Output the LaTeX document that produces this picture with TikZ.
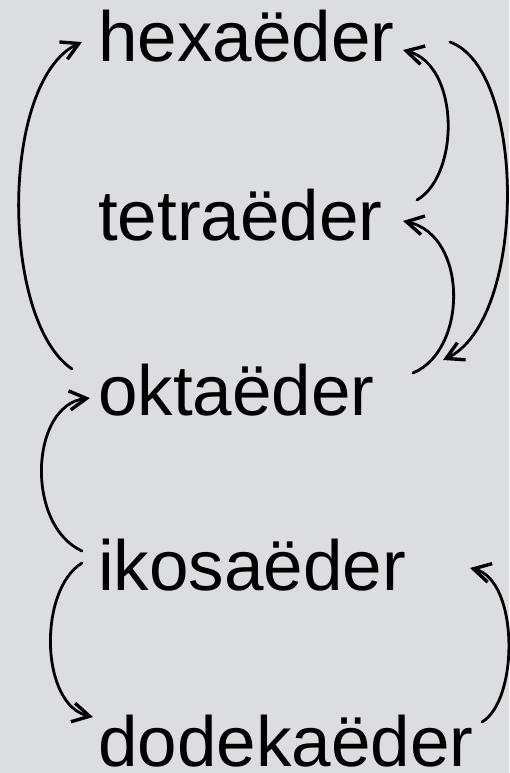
\documentclass[tikz,border=0pt]{standalone}
\usepackage{fontspec}
\setmainfont{Liberation Sans}
\usetikzlibrary{arrows.meta}
\definecolor{bg}{RGB}{220,221,224}
\begin{document}
\begin{tikzpicture}[x=1pt,y=1pt,
  word/.style={anchor=base west, inner sep=0pt, font=\fontsize{71}{71}\selectfont},
  link/.style={line width=2.8pt, line cap=round, -{Straight Barb[length=17pt,width=19pt,line width=3.4pt]}}]
\fill[bg] (0,0) rectangle (509,-773);
\useasboundingbox (0,0) rectangle (509,-773);
\node[word] (hexa) at (98,-62) {hexaëder};
\node[word] (tetra) at (98,-240) {tetraëder};
\node[word] (okta) at (98,-415) {oktaëder};
\node[word] (ikosa) at (98,-590) {ikosaëder};
\node[word] (dodeka) at (98,-766) {dodekaëder};
% okta -> hexa (left)
\draw[link] ([shift={(-26,46)}]okta.base west) .. controls +(-72,49) and +(-82,-38) .. ([shift={(-16,20)}]hexa.base west);
% tetra -> hexa
\draw[link] ([shift={(319,40)}]tetra.base west) .. controls +(43,25) and +(57,-15) .. ([shift={(305,12)}]hexa.base west);
% okta -> tetra
\draw[link] ([shift={(315,42)}]okta.base west) .. controls +(55,23) and +(65,-14) .. ([shift={(305,19)}]tetra.base west);
% hexa -> okta
\draw[link] ([shift={(352,20)}]hexa.base west) .. controls +(77,-28) and +(84,40) .. ([shift={(345,55)}]okta.base west);
% ikosa -> okta
\draw[link] ([shift={(-16,39)}]ikosa.base west) .. controls +(-57,26) and +(-60,-7) .. ([shift={(-8,17)}]okta.base west);
% ikosa -> dodeka
\draw[link] ([shift={(-16,27)}]ikosa.base west) .. controls +(-44,-27) and +(-53,12) .. ([shift={(-5,49)}]dodeka.base west);
% dodeka -> ikosa
\draw[link] ([shift={(384,44)}]dodeka.base west) .. controls +(37,22) and +(49,-12) .. ([shift={(372,22)}]ikosa.base west);
\end{tikzpicture}
\end{document}
